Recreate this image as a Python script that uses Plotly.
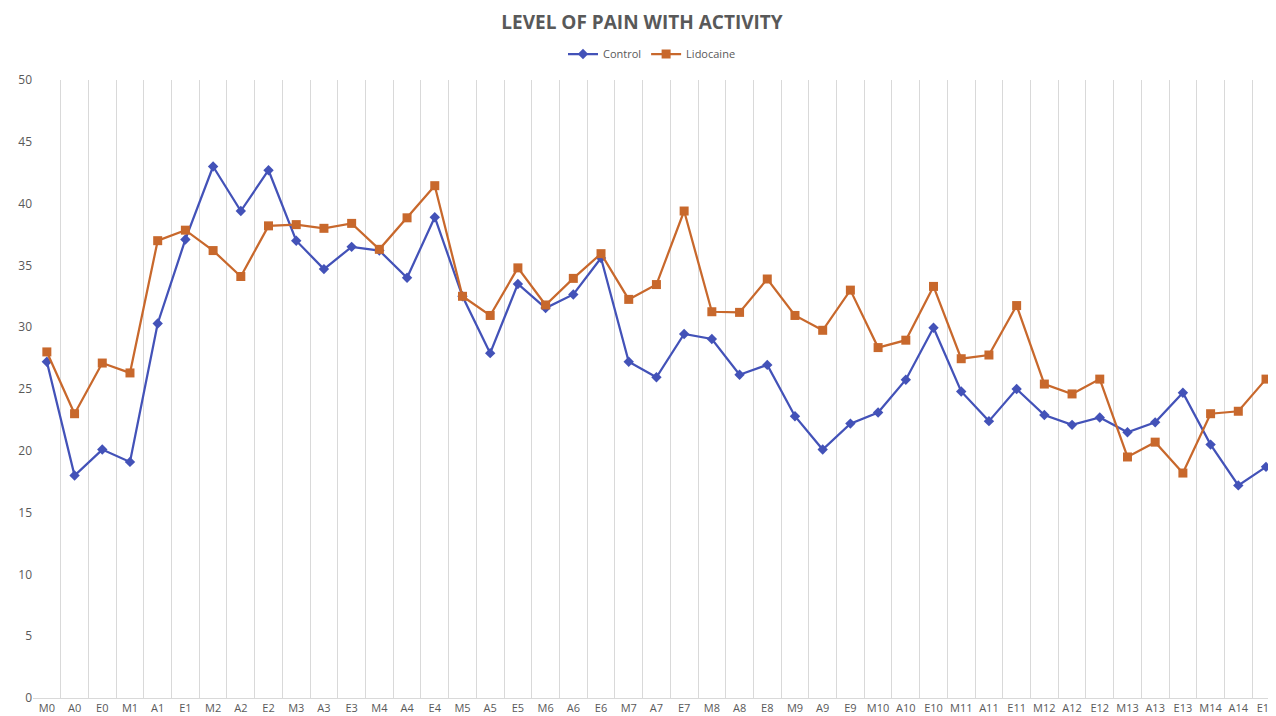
import plotly.graph_objects as go

categories = []
for d in range(15):
    for p in ["M", "A", "E"]:
        categories.append(f"{p}{d}")

control = [27.2, 18.0, 20.1, 19.1, 30.3, 37.1, 43.0, 39.4, 42.7, 37.0, 34.7, 36.5,
           36.2, 34.0, 38.9, 32.5, 27.9, 33.5, 31.55, 32.65, 35.6, 27.2, 25.95, 29.45,
           29.05, 26.15, 26.95, 22.8, 20.1, 22.2, 23.1, 25.75, 29.95, 24.8, 22.4, 25.0,
           22.9, 22.1, 22.7, 21.5, 22.3, 24.7, 20.5, 17.2, 18.7]
lidocaine = [28.0, 23.0, 27.1, 26.3, 37.0, 37.85, 36.2, 34.1, 38.2, 38.3, 38.0, 38.4,
             36.3, 38.85, 41.45, 32.5, 30.95, 34.8, 31.8, 33.95, 35.95, 32.25, 33.45, 39.4,
             31.25, 31.2, 33.9, 30.95, 29.75, 33.0, 28.35, 28.95, 33.3, 27.45, 27.75, 31.75,
             25.4, 24.6, 25.8, 19.5, 20.7, 18.2, 23.0, 23.2, 25.8]

blue = "#4352B8"
orange = "#C8682C"

# page body has an 8px margin; size the figure so the plot lands where the reference has it
W, H = 1268, 708
T, B, L = 72, 18, 25
plot_h = H - T - B

fig = go.Figure()
fig.add_trace(go.Scatter(x=categories, y=control, name="Control", mode="lines+markers",
                         line=dict(color=blue, width=2.25),
                         marker=dict(symbol="diamond", size=8, color=blue)))
fig.add_trace(go.Scatter(x=categories, y=lidocaine, name="Lidocaine", mode="lines+markers",
                         line=dict(color=orange, width=2.25),
                         marker=dict(symbol="square", size=9, color=orange)))

fig.update_layout(
    width=W, height=H,
    margin=dict(l=L, r=0, t=T, b=B),
    paper_bgcolor="white", plot_bgcolor="white",
    font=dict(family="Open Sans, Liberation Sans, sans-serif", color="#595959", size=11),
    title=dict(text="<b>LEVEL OF PAIN WITH ACTIVITY</b>", x=0.5, xanchor="center",
               y=1 - 14 / H, yanchor="middle", yref="container",
               font=dict(size=19, color="#595959")),
    legend=dict(orientation="h", x=0.5, xanchor="center", y=1 + 26 / plot_h, yanchor="middle",
                font=dict(size=11, color="#595959"), itemwidth=30),
    showlegend=True,
)
fig.update_xaxes(type="category", tickson="boundaries", showgrid=True, gridcolor="#D9D9D9",
                 gridwidth=1, showline=True, linecolor="#D9D9D9", linewidth=1,
                 ticks="", range=[-0.5, 44.18], tickfont=dict(size=11, color="#595959"),
                 tickangle=0, fixedrange=True)
fig.update_yaxes(range=[0, 50], dtick=5, showgrid=False, zeroline=False, showline=False,
                 ticks="", tickfont=dict(size=12, color="#595959"), fixedrange=True)

fig.write_html("out.html")
